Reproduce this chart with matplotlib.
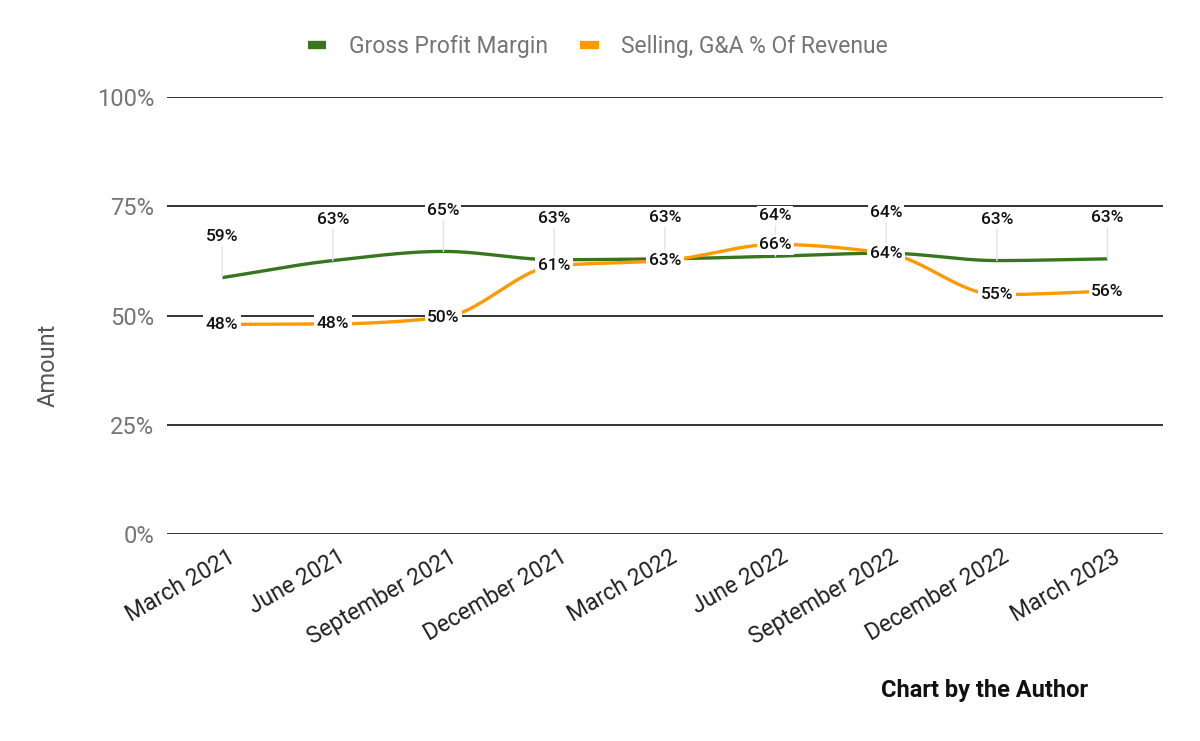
import numpy as np
import matplotlib
matplotlib.use("Agg")
from matplotlib import pyplot as plt
from matplotlib.transforms import ScaledTranslation

plt.rcParams['font.family'] = ['Roboto', 'DejaVu Sans']

quarters = ["March 2021", "June 2021", "September 2021", "December 2021",
            "March 2022", "June 2022", "September 2022", "December 2022",
            "March 2023"]
gross_margin = [58.7, 62.6, 64.7, 62.8, 63.0, 63.6, 64.3, 62.6, 63.0]
sga_pct = [48.0, 48.1, 49.6, 61.4, 62.6, 66.3, 64.3, 54.8, 55.6]

GREEN = "#38761d"
ORANGE = "#ff9900"


def smooth(x, y, n=30):
    # monotone cubic (pchip style) curve through the points, like curveType 'function'
    x = np.asarray(x, float)
    y = np.asarray(y, float)
    h = np.diff(x)
    d = np.diff(y) / h
    m = np.zeros_like(y)
    for i in range(1, len(y) - 1):
        if d[i - 1] * d[i] > 0:
            m[i] = 2 / (1 / d[i - 1] + 1 / d[i])
    m[0], m[-1] = d[0], d[-1]
    xs, ys = [], []
    for i in range(len(x) - 1):
        t = np.linspace(0, 1, n)
        h00 = 2 * t**3 - 3 * t**2 + 1
        h10 = t**3 - 2 * t**2 + t
        h01 = -2 * t**3 + 3 * t**2
        h11 = t**3 - t**2
        xs.append(x[i] + t * h[i])
        ys.append(h00 * y[i] + h10 * h[i] * m[i] + h01 * y[i + 1] + h11 * h[i] * m[i + 1])
    return np.concatenate(xs), np.concatenate(ys)


fig = plt.figure(figsize=(12, 7.41), dpi=100)
ax = fig.add_axes([0.139, 0.279, 0.830, 0.590])

x = np.arange(len(quarters))

for yv in [0, 25, 50, 75, 100]:
    ax.axhline(yv, color="#333333", lw=1.4, zorder=1)

gx, gy = smooth(x, gross_margin)
ox, oy = smooth(x, sga_pct)
ax.plot(gx, gy, color=GREEN, lw=2.4, label="Gross Profit Margin", zorder=3,
        solid_capstyle="butt")
ax.plot(ox, oy, color=ORANGE, lw=2.4, label="Selling, G&A % Of Revenue", zorder=3,
        solid_capstyle="butt")

for xi, v in zip(x, gross_margin):
    ax.annotate(f"{v:.0f}%", xy=(xi, v), xytext=(0, 24), textcoords="offset points",
                ha="center", va="bottom", fontsize=12.5, fontweight="medium",
                color="#111111", zorder=5,
                bbox=dict(boxstyle="square,pad=0.1", fc="white", ec="none"),
                arrowprops=dict(arrowstyle="-", color="#e3e3e3", lw=1,
                                shrinkA=0, shrinkB=0))
for xi, v in zip(x, sga_pct):
    ax.text(xi, v, f"{v:.0f}%", ha="center", va="center", fontsize=12.5,
            fontweight="medium", color="#111111", zorder=6,
            bbox=dict(boxstyle="square,pad=0.15", fc="white", ec="none"))

ax.set_xlim(-0.5, 8.5)
ax.set_ylim(0, 100)
ax.set_yticks([0, 25, 50, 75, 100])
ax.set_yticklabels(["0%", "25%", "50%", "75%", "100%"])
ax.set_xticks(x)
ax.set_xticklabels(quarters, rotation=30, ha="right", rotation_mode="anchor")
ax.tick_params(axis="y", length=0, pad=9, labelsize=17, labelcolor="#757575")
ax.tick_params(axis="x", length=0, pad=8, labelsize=16.5, labelcolor="#222222")
shift = ScaledTranslation(5 / 100, 0, fig.dpi_scale_trans)
for lbl in ax.get_xticklabels():
    lbl.set_transform(lbl.get_transform() + shift)
for s in ax.spines.values():
    s.set_visible(False)

fig.text(48 / 1200, 1 - 365 / 741, "Amount", rotation=90, ha="center", va="center",
         fontsize=17, color="#555555")

leg = fig.legend(loc="center", bbox_to_anchor=(598 / 1200, 1 - 47 / 741), ncol=2,
                 frameon=False, fontsize=16.5, handlelength=0.8, handletextpad=1.0,
                 columnspacing=1.4)
for line in leg.get_lines():
    line.set_linewidth(6)
    line.set_solid_capstyle("butt")
for t in leg.get_texts():
    t.set_color("#757575")

fig.text(985 / 1200, 1 - 690 / 741, "Chart by the Author", ha="center", va="center",
         fontsize=17, fontweight="bold", color="#111111")

fig.savefig("out.png", dpi=100, facecolor="white")
